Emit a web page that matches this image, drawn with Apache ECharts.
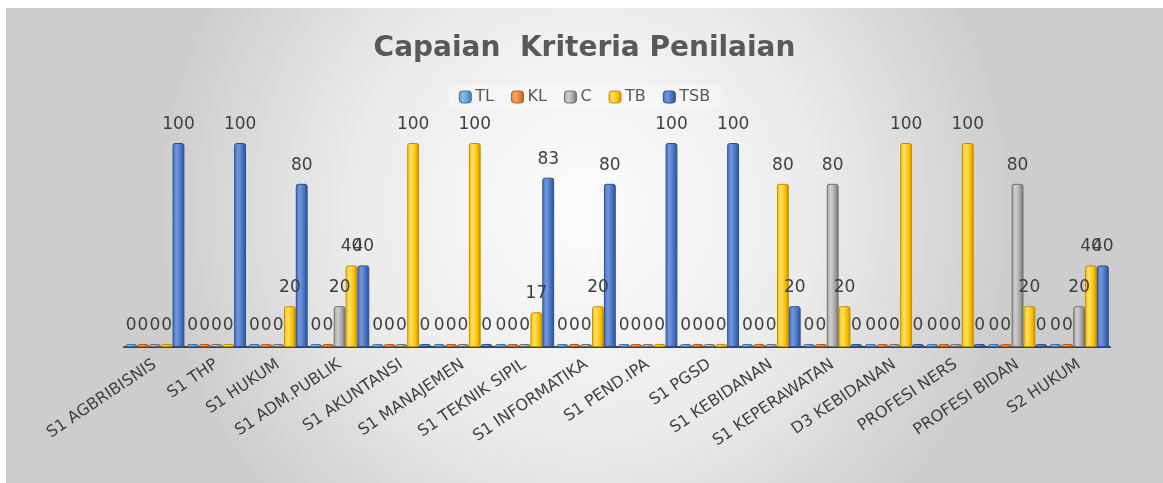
<!DOCTYPE html>
<html>
<head>
<meta charset="utf-8">
<script src="https://cdn.jsdelivr.net/npm/echarts@6/dist/echarts.min.js"></script>
<style>
  html, body { margin: 0; padding: 0; background: #fff; }
  #chart { position: absolute; left: 6px; top: 8px; width: 1157px; height: 475px; }
</style>
</head>
<body>
<div id="chart"></div>
<script>
const categories = ['S1 AGBRIBISNIS', 'S1 THP', 'S1 HUKUM', 'S1 ADM.PUBLIK', 'S1 AKUNTANSI',
  'S1 MANAJEMEN', 'S1 TEKNIK SIPIL', 'S1 INFORMATIKA', 'S1 PEND.IPA', 'S1 PGSD',
  'S1 KEBIDANAN', 'S1 KEPERAWATAN', 'D3 KEBIDANAN', 'PROFESI NERS', 'PROFESI BIDAN', 'S2 HUKUM'];

const tlValues  = [0, 0, 0, 0, 0, 0, 0, 0, 0, 0, 0, 0, 0, 0, 0, 0];
const klValues  = [0, 0, 0, 0, 0, 0, 0, 0, 0, 0, 0, 0, 0, 0, 0, 0];
const cValues   = [0, 0, 0, 20, 0, 0, 0, 0, 0, 0, 0, 80, 0, 0, 80, 20];
const tbValues  = [0, 0, 20, 40, 100, 100, 17, 20, 0, 0, 80, 20, 100, 100, 20, 40];
const tsbValues = [100, 100, 80, 40, 0, 0, 83, 80, 100, 100, 20, 0, 0, 0, 0, 40];

const seriesNames = ['TL', 'KL', 'C', 'TB', 'TSB'];
// light / base / dark tone per series, for a rounded 3D look
const tones = [
  ['#8cbbe8', '#5B9BD5', '#3d74a8'],
  ['#f5a36b', '#ED7D31', '#b85a1c'],
  ['#cfcfcf', '#A5A5A5', '#6e6e6e'],
  ['#ffe066', '#FFC000', '#c08f00'],
  ['#7396da', '#4472C4', '#2b4f8f']
];

const chart = echarts.init(document.getElementById('chart'));

const mkSeries = (name, values, t) => ({
  name: name,
  type: 'bar',
  data: values,
  barGap: '0%',
  barCategoryGap: '4%',
  barMinHeight: 3,
  itemStyle: {
    color: new echarts.graphic.LinearGradient(0, 0, 1, 0, [
      { offset: 0, color: t[1] },
      { offset: 0.35, color: t[0] },
      { offset: 0.7, color: t[1] },
      { offset: 1, color: t[2] }
    ]),
    borderColor: t[2],
    borderWidth: 1,
    borderRadius: [2, 2, 0, 0]
  },
  label: {
    show: true,
    position: 'top',
    distance: 10,
    color: '#404040',
    fontSize: 17,
    fontFamily: 'DejaVu Sans'
  }
});

const allValues = [tlValues, klValues, cValues, tbValues, tsbValues];

const option = {
  backgroundColor: new echarts.graphic.RadialGradient(0.5, 0.42, 0.9, [
    { offset: 0, color: '#fdfdfd' },
    { offset: 0.55, color: '#ebebeb' },
    { offset: 1, color: '#cdcdcd' }
  ]),
  color: tones.map(t => t[1]),
  title: {
    text: 'Capaian  Kriteria Penilaian',
    left: 'center',
    top: 22,
    textStyle: {
      color: '#595959',
      fontSize: 28,
      fontWeight: 'bold',
      fontFamily: 'DejaVu Sans'
    }
  },
  legend: {
    data: seriesNames,
    top: 77,
    left: 'center',
    itemWidth: 12,
    itemHeight: 12,
    itemGap: 17,
    padding: [4, 10],
    backgroundColor: 'rgba(255,255,255,0.35)',
    textStyle: { color: '#595959', fontSize: 16, fontFamily: 'DejaVu Sans', padding: [0, 0, 0, -1] },
    itemStyle: { borderWidth: 1 }
  },
  grid: { left: 118, right: 53, top: 135, bottom: 136 },
  xAxis: {
    type: 'category',
    data: categories,
    axisTick: { show: false },
    axisLine: { lineStyle: { color: '#404040', width: 2 } },
    axisLabel: {
      rotate: 34,
      interval: 0,
      margin: 16,
      color: '#404040',
      fontSize: 16,
      fontFamily: 'DejaVu Sans'
    }
  },
  yAxis: {
    type: 'value',
    min: 0,
    max: 100,
    show: false
  },
  series: seriesNames.map((n, i) => mkSeries(n, allValues[i], tones[i]))
};

chart.setOption(option);
</script>
</body>
</html>
